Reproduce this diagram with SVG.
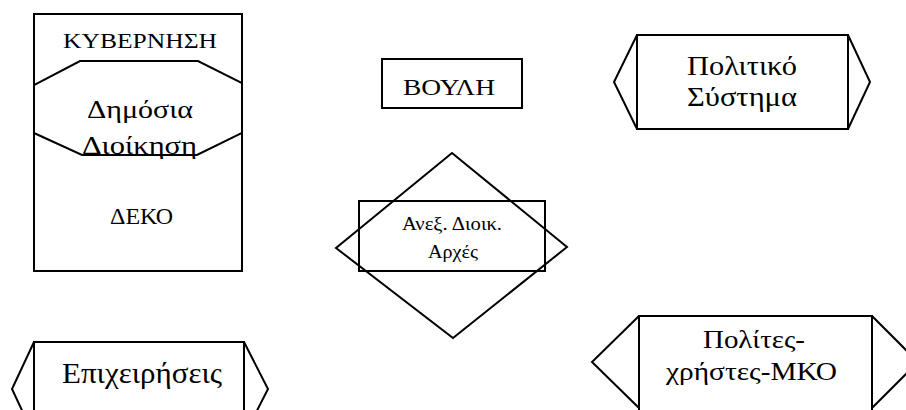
<svg xmlns="http://www.w3.org/2000/svg" width="906" height="410" viewBox="0 0 906 410">
<style>
.s{fill:none;stroke:#000;stroke-width:2;stroke-linejoin:miter}
.t{font-family:"Liberation Serif","Times New Roman",serif;fill:#000;text-anchor:middle}
</style>
<rect width="906" height="410" fill="#fff"/>
<g id="connectors"/>
<g id="kyvernisi">
<rect class="s" x="34" y="14" width="208" height="257"/>
<text class="t" x="140" y="48" font-size="22" textLength="154" lengthAdjust="spacingAndGlyphs">ΚΥΒΕΡΝΗΣΗ</text>
<text class="t" x="141.5" y="224" font-size="23" textLength="63" lengthAdjust="spacingAndGlyphs">ΔΕΚΟ</text>
</g>
<g id="dimosia-dioikisi">
<polygon class="s" points="80,61 198,61 242,83 242,133 197,155 82,155 34,133 34,85"/>
<text class="t" x="140" y="118" font-size="26" textLength="106" lengthAdjust="spacingAndGlyphs">Δημόσια</text>
<text class="t" x="139.5" y="154" font-size="26" textLength="115" lengthAdjust="spacingAndGlyphs">Διοίκηση</text>
</g>
<g id="vouli">
<rect class="s" x="382" y="59" width="140" height="49"/>
<text class="t" x="449" y="95" font-size="24" textLength="92" lengthAdjust="spacingAndGlyphs">ΒΟΥΛΗ</text>
</g>
<g id="anex-arches">
<polygon class="s" points="452,153 567,247 453,338 336,248"/>
<rect class="s" x="359" y="201" width="186" height="70"/>
<text class="t" x="452" y="230" font-size="19" textLength="100" lengthAdjust="spacingAndGlyphs">Ανεξ. Διοικ.</text>
<text class="t" x="453" y="258" font-size="19" textLength="50" lengthAdjust="spacingAndGlyphs">Αρχές</text>
</g>
<g id="politiko-systima">
<rect class="s" x="637" y="35" width="211" height="94"/>
<polyline class="s" points="637,35 614,82 637,129"/>
<polyline class="s" points="848,35 870,82 848,129"/>
<text class="t" x="742" y="75" font-size="28" textLength="110" lengthAdjust="spacingAndGlyphs">Πολιτικό</text>
<text class="t" x="742" y="106" font-size="28" textLength="110" lengthAdjust="spacingAndGlyphs">Σύστημα</text>
</g>
<g id="epicheiriseis">
<rect class="s" x="34" y="342" width="210" height="94"/>
<polyline class="s" points="34,342 12,389 34,436"/>
<polyline class="s" points="244,342 268,389 244,436"/>
<text class="t" x="142" y="383" font-size="29" textLength="160" lengthAdjust="spacingAndGlyphs">Επιχειρήσεις</text>
</g>
<g id="polites">
<rect class="s" x="639" y="316" width="233" height="96"/>
<polyline class="s" points="639,316 592,362 639,408"/>
<polyline class="s" points="872,316 918,362 872,408"/>
<text class="t" x="754" y="348" font-size="26" textLength="102" lengthAdjust="spacingAndGlyphs">Πολίτες-</text>
<text class="t" x="751.5" y="380" font-size="26" textLength="171" lengthAdjust="spacingAndGlyphs">χρήστες-ΜΚΟ</text>
</g>
</svg>
